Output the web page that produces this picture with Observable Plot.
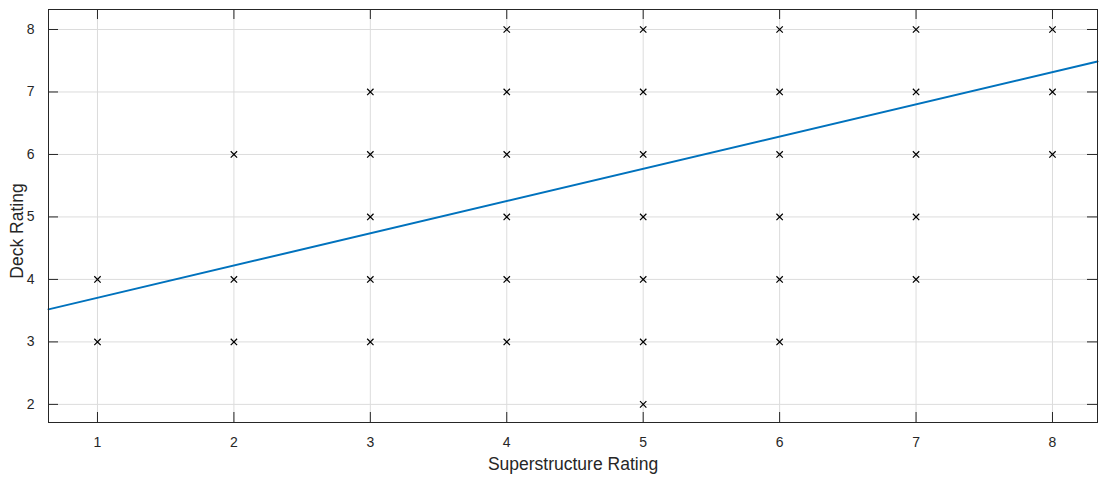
<!DOCTYPE html>
<html>
<head>
<meta charset="utf-8">
<script src="https://cdn.jsdelivr.net/npm/d3@7"></script>
<script src="https://cdn.jsdelivr.net/npm/@observablehq/plot@0.6"></script>
<style>
  html, body { margin: 0; padding: 0; background: #fff; }
  #chart { width: 1099px; height: 477px; }
</style>
</head>
<body>
<div id="chart"></div>
<script>
const superRating = [1,1, 2,2,2, 3,3,3,3,3, 4,4,4,4,4,4, 5,5,5,5,5,5,5, 6,6,6,6,6,6, 7,7,7,7,7, 8,8,8];
const deckRating  = [3,4, 3,4,6, 3,4,5,6,7, 3,4,5,6,7,8, 2,3,4,5,6,7,8, 3,4,5,6,7,8, 4,5,6,7,8, 6,7,8];
const fitIntercept = 3.19;
const fitSlope = 0.516;
const xDomain = [0.641, 8.33];
const yDomain = [1.71, 8.32];
const xTicks = [1,2,3,4,5,6,7,8];
const yTicks = [2,3,4,5,6,7,8];

const points = superRating.map((s, i) => ({x: s, y: deckRating[i]}));
const fitLine = xDomain.map(x => ({x, y: fitIntercept + fitSlope * x}));

const W = 1099, H = 477, mL = 48, mR = 2, mT = 9, mB = 55;
const xPerPx = (xDomain[1] - xDomain[0]) / (W - mL - mR);
const yPerPx = (yDomain[1] - yDomain[0]) / (H - mT - mB);
const tickLen = 10;
const ink = "#262626";
const fmt = d3.format("d");

const plot = Plot.plot({
  width: W, height: H,
  marginLeft: mL, marginRight: mR, marginTop: mT, marginBottom: mB,
  style: {fontFamily: "Arial, 'Liberation Sans', sans-serif", fontSize: "14px", color: ink, background: "#fff"},
  x: {domain: xDomain, ticks: xTicks, label: null},
  y: {domain: yDomain, ticks: yTicks, label: null},
  marks: [
    Plot.gridX(xTicks, {stroke: "#dcdcdc", strokeOpacity: 1}),
    Plot.gridY(yTicks, {stroke: "#dcdcdc", strokeOpacity: 1}),
    Plot.axisX(xTicks, {tickSize: 0, tickPadding: 15, fontSize: 14, fill: ink, tickFormat: fmt}),
    Plot.axisY(yTicks, {tickSize: 0, tickPadding: 14, fontSize: 14, fill: ink, tickFormat: fmt}),
    Plot.ruleX(xTicks, {x: d => d, y1: yDomain[0], y2: yDomain[0] + tickLen * yPerPx, stroke: ink}),
    Plot.ruleX(xTicks, {x: d => d, y1: yDomain[1], y2: yDomain[1] - tickLen * yPerPx, stroke: ink}),
    Plot.ruleY(yTicks, {y: d => d, x1: xDomain[0], x2: xDomain[0] + tickLen * xPerPx, stroke: ink}),
    Plot.ruleY(yTicks, {y: d => d, x1: xDomain[1], x2: xDomain[1] - tickLen * xPerPx, stroke: ink}),
    Plot.dot(points, {x: "x", y: "y", symbol: "times", r: 3, stroke: "#000", strokeWidth: 1.2}),
    Plot.line(fitLine, {x: "x", y: "y", stroke: "#0072BD", strokeWidth: 2}),
    Plot.frame({stroke: ink, strokeWidth: 1}),
    Plot.text(["Superstructure Rating"], {frameAnchor: "bottom", dy: 47, fontSize: 17.5, fill: ink}),
    Plot.text(["Deck Rating"], {frameAnchor: "left", textAnchor: "middle", dx: -31, dy: 15, rotate: -90, fontSize: 17.5, fill: ink})
  ]
});
document.getElementById("chart").appendChild(plot);
</script>
</body>
</html>
